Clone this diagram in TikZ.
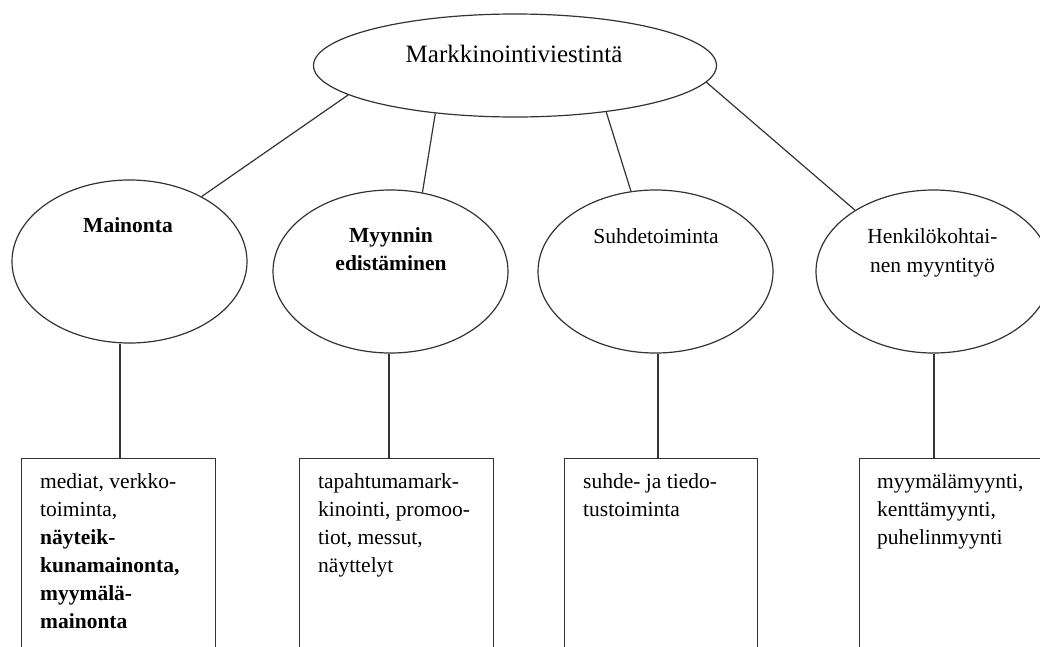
\documentclass[tikz,border=0pt]{standalone}
\usepackage{fontspec}
\setmainfont{Liberation Serif}
\usetikzlibrary{shapes.geometric}
\begin{document}
\begin{tikzpicture}[x=1pt,y=-1pt,
  conn/.style={draw=black!80, line width=1.2pt},
  oval/.style={ellipse, draw=black!80, line width=1.2pt, inner sep=0pt, minimum width=235pt, minimum height=163pt},
  topoval/.style={oval, minimum width=403pt, minimum height=103pt},
  lbl/.style={inner sep=0pt, align=center, font=\fontsize{21.5}{28.5}\selectfont},
  lblb/.style={inner sep=0pt, align=center, font=\fontsize{21.5}{28.5}\selectfont\bfseries},
  toplbl/.style={inner sep=0pt, font=\fontsize{25}{30}\selectfont},
  boxnode/.style={draw=black!80, line width=1.2pt, rectangle, inner sep=0pt, minimum width=193.5pt, minimum height=260pt, anchor=north west},
  boxtxt/.style={inner sep=0pt, anchor=north west, align=left, font=\fontsize{21.5}{28}\selectfont}]
\useasboundingbox (0,0) rectangle (1040,646);
\clip (0,0) rectangle (1040,646);

% ellipses
\node[topoval] (top) at (515,65.5) {};
\node[oval] (e1) at (129.5,261.5) {};
\node[oval] (e2) at (390.5,271.5) {};
\node[oval] (e3) at (655.5,271.5) {};
\node[oval] (e4) at (933.5,271.5) {};

% ellipse labels
\node[toplbl, anchor=base] (ttop) at (514,62) {Markkinointiviestintä};
\node[lblb, anchor=base] (t1) at (128,232) {Mainonta};
\node[lblb, anchor=north] (t2) at (391,227) {Myynnin\\edistäminen};
\node[lbl, anchor=base] (t3) at (656,243) {Suhdetoiminta};
\node[lbl, anchor=north] (t4) at (932.5,228.5) {Henkilökohtai-\\nen myyntityö};

% boxes
\node[boxnode] (b1) at (21,458) {};
\node[boxnode] (b2) at (299,458) {};
\node[boxnode] (b3) at (563.5,458) {};
\node[boxnode] (b4) at (859,458) {};

% box texts
\node[boxtxt] (x1) at (40,473.3) {mediat, verkko-\\toiminta,\\\textbf{näyteik-}\\\textbf{kunamainonta,}\\\textbf{myymälä-}\\\textbf{mainonta}};
\node[boxtxt] (x2) at (318,473.3) {tapahtumamark-\\kinointi, promoo-\\tiot, messut,\\näyttelyt};
\node[boxtxt] (x3) at (583,473.3) {suhde- ja tiedo-\\tustoiminta};
\node[boxtxt] (x4) at (877,473.3) {myymälämyynti,\\kenttämyynti,\\puhelinmyynti};

% connectors from top ellipse
\draw[conn] (top.190) -- (e1.42);
\draw[conn] (top.211) -- (e2.68);
\draw[conn] (top.333) -- (e3.107);
\draw[conn] (top.355) -- (e4.142);

% connectors to boxes
\draw[conn] ([xshift=-9.5pt]e1.south) -- ([xshift=-9.5pt]e1.south |- b1.north);
\draw[conn] ([xshift=-1.5pt]e2.south) -- ([xshift=-1.5pt]e2.south |- b2.north);
\draw[conn] ([xshift=2.5pt]e3.south) -- ([xshift=2.5pt]e3.south |- b3.north);
\draw[conn] ([xshift=0.5pt]e4.south) -- ([xshift=0.5pt]e4.south |- b4.north);
\end{tikzpicture}
\end{document}
